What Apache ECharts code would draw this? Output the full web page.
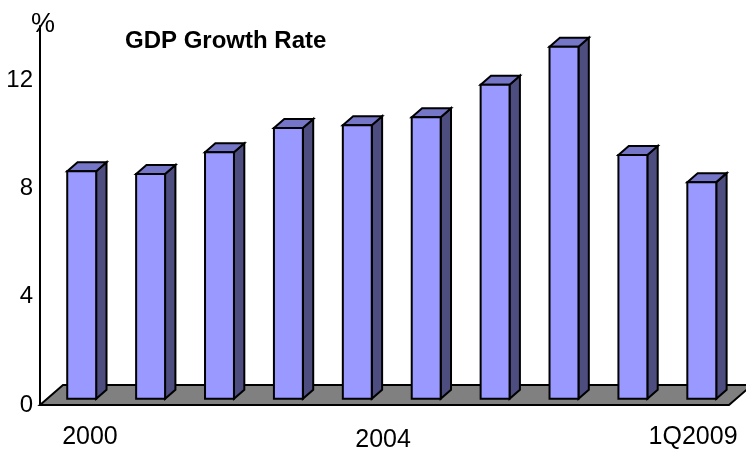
<!DOCTYPE html>
<html>
<head>
<meta charset="utf-8">
<script src="https://cdn.jsdelivr.net/npm/echarts@6/dist/echarts.min.js"></script>
<style>
html,body{margin:0;padding:0;background:#fff;}
#chart{width:746px;height:453px;}
</style>
</head>
<body>
<div id="chart"></div>
<script>
// Data
const categories = ['2000','2001','2002','2003','2004','2005','2006','2007','2008','1Q2009'];
const growthRate = [8.4, 8.3, 9.1, 10.0, 10.1, 10.4, 11.6, 13.0, 9.0, 8.0];
const tickLabels = ['2000','2004','1Q2009'];
const yTicks = [0, 4, 8, 12];

// 3D look parameters (styling)
const DEPTH_X = 23, DEPTH_Y = 20;   // floor depth vector
const FRONT = 0.315;                // bar front plane as fraction of depth
const BAR_DEPTH = 0.45;             // bar depth as fraction of floor depth
const BAR_FRAC = 0.42;              // bar width as fraction of category band
const FONT = '"Liberation Sans", Arial, sans-serif';

const chart = echarts.init(document.getElementById('chart'), null, {renderer: 'canvas'});

function renderFloor(params, api) {
  const cs = params.coordSys;
  const y0 = api.coord([0, 0])[1];
  const xl = cs.x, xr = cs.x + cs.width;
  return {
    type: 'polygon',
    shape: {points: [[xl, y0], [xr, y0], [xr + DEPTH_X, y0 - DEPTH_Y], [xl + DEPTH_X, y0 - DEPTH_Y]]},
    style: {fill: '#808080', stroke: '#000', lineWidth: 2}
  };
}

function renderBar(params, api) {
  const i = api.value(0), v = api.value(1);
  const base = api.coord([i, 0]);
  const top = api.coord([i, v]);
  const bw = api.size([1, 0])[0] * BAR_FRAC;
  const ox = DEPTH_X * FRONT, oy = -DEPTH_Y * FRONT;
  const dx = DEPTH_X * BAR_DEPTH, dy = -DEPTH_Y * BAR_DEPTH;
  const x0 = base[0] - bw / 2 + ox, x1 = x0 + bw;
  const yb = base[1] + oy, yt = top[1] + oy;
  const st = {stroke: '#000', lineWidth: 2, lineJoin: 'miter'};
  return {
    type: 'group',
    children: [
      {type: 'polygon', shape: {points: [[x1, yt], [x1 + dx, yt + dy], [x1 + dx, yb + dy], [x1, yb]]},
        style: Object.assign({fill: '#4d4d80'}, st)},
      {type: 'polygon', shape: {points: [[x0, yt], [x1, yt], [x1 + dx, yt + dy], [x0 + dx, yt + dy]]},
        style: Object.assign({fill: '#7676c8'}, st)},
      {type: 'rect', shape: {x: x0, y: yt, width: bw, height: yb - yt},
        style: Object.assign({fill: '#9999ff'}, st)}
    ]
  };
}

const labelStyle = {
  '2000': 'a',
  '2004': 'b',
  '1Q2009': 'c'
};

chart.setOption({
  animation: false,
  backgroundColor: '#fff',
  title: {
    text: 'GDP Growth Rate',
    left: 120, top: 24,
    textStyle: {fontFamily: FONT, fontWeight: 'bold', fontSize: 24, color: '#000'}
  },
  grid: {left: 40, right: 17, top: 26, bottom: 43, containLabel: false},
  xAxis: {
    type: 'category',
    data: categories,
    axisLine: {show: false},
    axisTick: {show: false},
    splitLine: {show: false},
    axisLabel: {
      interval: function (idx, val) { return tickLabels.indexOf(val) >= 0; },
      margin: 20,
      color: '#000',
      fontFamily: FONT,
      fontSize: 25,
      formatter: function (val) { return '{' + (labelStyle[val] || 'c') + '|' + val + '}'; },
      rich: {
        a: {fontFamily: FONT, fontSize: 25, color: '#000', padding: [0, 0, 0, 31]},
        b: {fontFamily: FONT, fontSize: 25, color: '#000', padding: [3, 0, 0, 66]},
        c: {fontFamily: FONT, fontSize: 25, color: '#000', padding: [0, 3, 0, 0]}
      }
    }
  },
  yAxis: {
    type: 'value',
    min: 0, max: 14, interval: 4,
    name: '%',
    nameLocation: 'end',
    nameGap: -12,
    nameTextStyle: {fontFamily: FONT, fontSize: 27, color: '#000', padding: [0, 0, 0, 6]},
    axisLine: {show: true, lineStyle: {color: '#000', width: 2}},
    axisTick: {show: false},
    splitLine: {show: false},
    axisLabel: {
      showMaxLabel: false,
      margin: 7,
      color: '#000',
      fontFamily: FONT,
      fontSize: 24,
      formatter: function (v) { return yTicks.indexOf(v) >= 0 ? String(v) : ''; }
    }
  },
  series: [
    {
      type: 'custom',
      renderItem: renderFloor,
      data: [[0, 0]],
      z: 1,
      silent: true
    },
    {
      type: 'custom',
      renderItem: renderBar,
      data: growthRate.map(function (v, i) { return [i, v]; }),
      encode: {x: 0, y: 1},
      z: 3
    }
  ]
});
</script>
</body>
</html>
